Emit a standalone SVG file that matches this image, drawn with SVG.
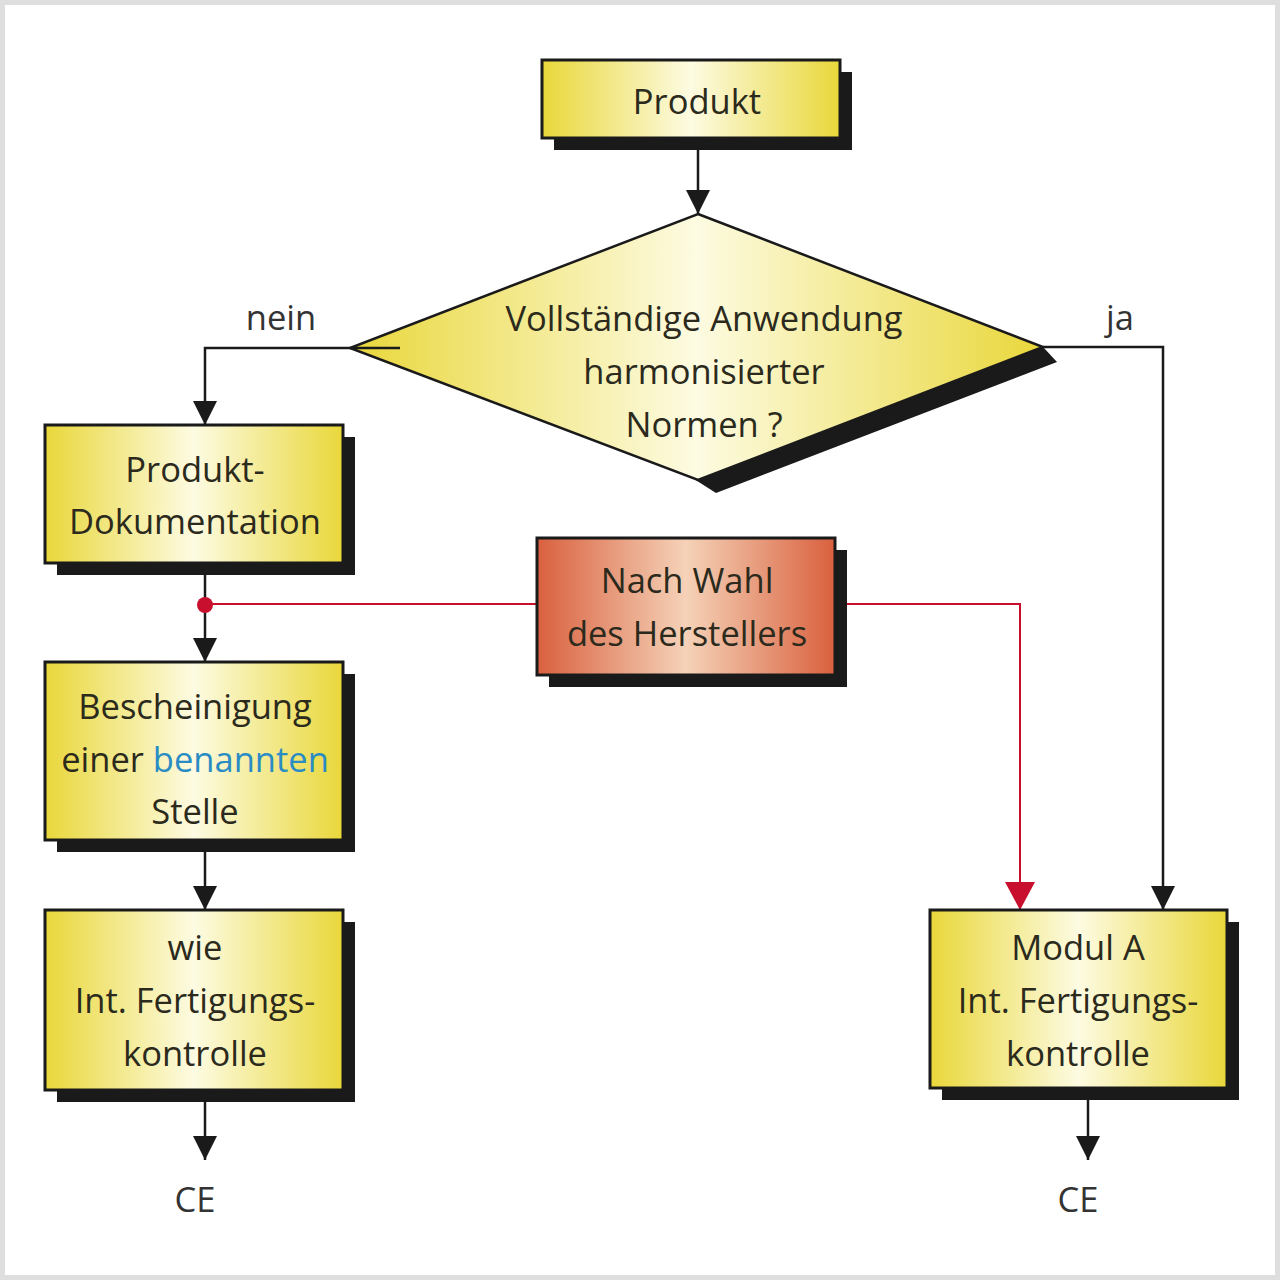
<svg xmlns="http://www.w3.org/2000/svg" width="1280" height="1280" viewBox="0 0 1280 1280">
<defs>
<linearGradient id="gy" x1="0" y1="0" x2="1" y2="0">
<stop offset="0" stop-color="#e9d73a"/>
<stop offset="0.5" stop-color="#fdfbe2"/>
<stop offset="1" stop-color="#e9d73a"/>
</linearGradient>
<linearGradient id="gr" x1="0" y1="0" x2="1" y2="0">
<stop offset="0" stop-color="#d9603e"/>
<stop offset="0.5" stop-color="#f5d2b8"/>
<stop offset="1" stop-color="#d9603e"/>
</linearGradient>
<marker id="ab" markerUnits="userSpaceOnUse" markerWidth="24" markerHeight="24" refX="24" refY="12" orient="auto" viewBox="0 0 24 24">
<path d="M0,0 L24,12 L0,24 z" fill="#1a1a1a"/>
</marker>
<marker id="ar" markerUnits="userSpaceOnUse" markerWidth="28" markerHeight="30" refX="28" refY="15" orient="auto" viewBox="0 0 28 30">
<path d="M0,0 L28,15 L0,30 z" fill="#c8102e"/>
</marker>
</defs>
<style>
.sh{fill:#1a1a1a}
.bx{fill:url(#gy);stroke:#1a1a1a;stroke-width:3}
.rbx{fill:url(#gr);stroke:#1a1a1a;stroke-width:3}
text{font-family:"Open Sans","Noto Sans",sans-serif;font-size:34.5px;fill:#2b2a1c;text-anchor:middle}
.lbl{fill:#333}
.blue{fill:#2a8cc4}
.cb{fill:none;stroke:#1a1a1a;stroke-width:2.5}
.cr{fill:none;stroke:#c8102e;stroke-width:2}
</style>
<rect x="0" y="0" width="1280" height="1280" fill="#ffffff"/>
<rect x="2.5" y="2.5" width="1275" height="1275" fill="none" stroke="#dedede" stroke-width="5"/>

<g id="connectors">
<line class="cb" x1="698" y1="150" x2="698" y2="214" marker-end="url(#ab)"/>
<polyline class="cb" points="1043,347 1163,347 1163,910" marker-end="url(#ab)"/>
<line class="cb" x1="205" y1="575" x2="205" y2="662" marker-end="url(#ab)"/>
<line class="cb" x1="205" y1="852" x2="205" y2="910" marker-end="url(#ab)"/>
<line class="cb" x1="205" y1="1102" x2="205" y2="1160" marker-end="url(#ab)"/>
<line class="cb" x1="1088" y1="1100" x2="1088" y2="1160" marker-end="url(#ab)"/>
<line class="cr" x1="205" y1="604" x2="537" y2="604"/>
<polyline class="cr" points="847,604 1020,604 1020,910" marker-end="url(#ar)"/>
<circle cx="205" cy="605" r="8" fill="#c8102e"/>
</g>

<g id="produkt">
<rect class="sh" x="554" y="72" width="298" height="78"/>
<rect class="bx" x="542" y="60" width="298" height="78"/>
<text x="697" y="114">Produkt</text>
</g>

<g id="entscheidung">
<polygon class="sh" points="1043,347 1057,362 716,493 694,479"/>
<polygon points="698,214 1043,347 698,480 350,348" fill="url(#gy)" stroke="#1a1a1a" stroke-width="2.5"/>
<text x="704" y="331">Vollständige Anwendung</text>
<text x="704" y="384">harmonisierter</text>
<text x="704" y="437">Normen ?</text>
</g>

<g id="nein-connector">
<polyline class="cb" points="400,348 205,348 205,425" marker-end="url(#ab)"/>
</g>

<g id="produktdoku">
<rect class="sh" x="57" y="437" width="298" height="138"/>
<rect class="bx" x="45" y="425" width="298" height="138"/>
<text x="195" y="482">Produkt-</text>
<text x="195" y="534">Dokumentation</text>
</g>

<g id="nachwahl">
<rect class="sh" x="549" y="550" width="298" height="137"/>
<rect class="rbx" x="537" y="538" width="298" height="137"/>
<text x="687" y="593">Nach Wahl</text>
<text x="687" y="646">des Herstellers</text>
</g>

<g id="bescheinigung">
<rect class="sh" x="57" y="674" width="298" height="178"/>
<rect class="bx" x="45" y="662" width="298" height="178"/>
<text x="195" y="719">Bescheinigung</text>
<text x="195" y="772">einer <tspan class="blue">benannten</tspan></text>
<text x="195" y="824">Stelle</text>
</g>

<g id="wie">
<rect class="sh" x="57" y="922" width="298" height="180"/>
<rect class="bx" x="45" y="910" width="298" height="180"/>
<text x="195" y="960">wie</text>
<text x="195" y="1013">Int. Fertigungs-</text>
<text x="195" y="1066">kontrolle</text>
</g>

<g id="modula">
<rect class="sh" x="942" y="922" width="297" height="178"/>
<rect class="bx" x="930" y="910" width="297" height="178"/>
<text x="1078" y="960">Modul A</text>
<text x="1078" y="1013">Int. Fertigungs-</text>
<text x="1078" y="1066">kontrolle</text>
</g>

<g id="labels">
<text class="lbl" x="281" y="330">nein</text>
<text class="lbl" x="1120" y="330">ja</text>
<text class="lbl" x="195" y="1212">CE</text>
<text class="lbl" x="1078" y="1212">CE</text>
</g>
</svg>
